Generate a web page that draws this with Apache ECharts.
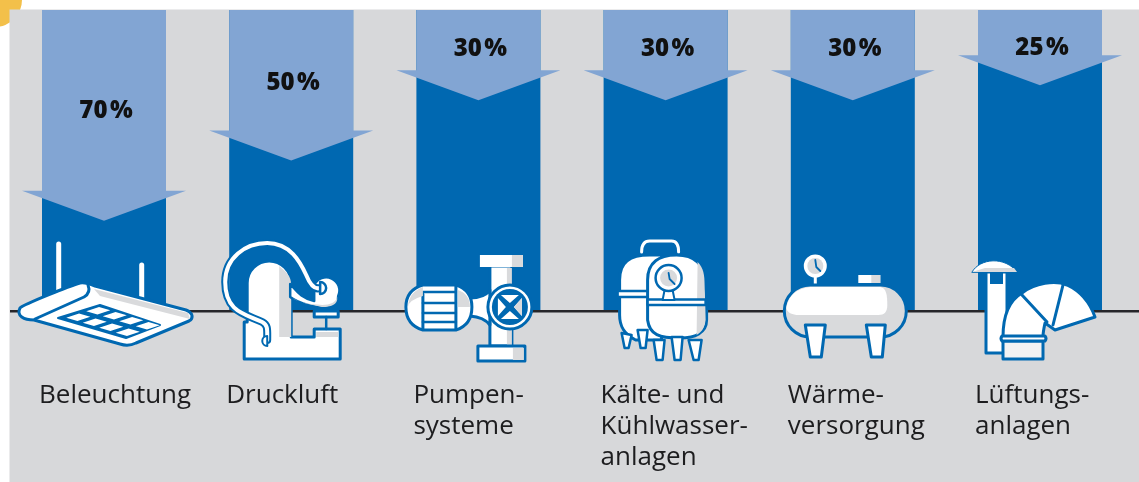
<!DOCTYPE html>
<html><head><meta charset="utf-8">
<style>html,body{margin:0;padding:0;background:#fff}#c{width:1139px;height:482px}</style>
<script src="https://cdn.jsdelivr.net/npm/echarts@6/dist/echarts.min.js"></script>
</head><body><div id="c"></div>
<script>
const categories = ['Beleuchtung','Druckluft','Pumpen-\nsysteme','Kälte- und\nKühlwasser-\nanlagen','Wärme-\nversorgung','Lüftungs-\nanlagen'];
const fullScale = [100,100,100,100,100,100];
const savings = [70,50,30,30,30,25];

const BLUE='#0068b1', LIGHT='#82a5d3', GRAY='#d7d8da', SHADE='#d9dadc', W='#ffffff';
const chart = echarts.init(document.getElementById('c'),null,{renderer:'canvas'});

function p(d,fill,stroke,lw){return {type:'path',shape:{pathData:d},style:{fill:fill||'none',stroke:stroke||'none',lineWidth:lw||0,lineJoin:'round',lineCap:'round'}};}
const ICO=(d)=>p(d,W,BLUE,3);
function grille(){ // lamp lens cells
  const A=[60,318],B=[100,305],D=[126,338];let out='';
  const L=(u,v)=>[A[0]+(B[0]-A[0])*v+(D[0]-A[0])*u, A[1]+(B[1]-A[1])*v+(D[1]-A[1])*u];
  for(let r=0;r<4;r++)for(let c=0;c<2;c++){
    const u0=r/4+.04,u1=(r+1)/4-.04,v0=c/2+.09,v1=(c+1)/2-.09;
    const a=L(u0,v0),b=L(u0,v1),e=L(u1,v1),f=L(u1,v0);
    out+=`M${a[0]},${a[1]}L${b[0]},${b[1]}L${e[0]},${e[1]}L${f[0]},${f[1]}Z`;
  }
  return out;
}
const TUBE='M267,340C267,330 268,325 262,322C245,314 225,312 225,282C225,258 245,243 267,243C290,243 300,262 306,275C310,285 314,290 320,288';
const icons=[
 { ox:104, parts:[
  p('M58.7,244L58.7,290',null,W,5), p('M141.7,265L141.7,298',null,W,5),
  ICO('M20,308C24,304 70,286 80,283C85,282 90,284 95,286L186,310C193,313 194,318 189,321L136,343C130,346 126,346 120,344L34,320C24,320 16,316 20,308Z'),
  p('M94,289L188,313L190,319L100,296Z',SHADE),
  p('M88,285C90,290 89,294 84,297L35,319',null,BLUE,3),
  p('M58,318L100,305L160,325L126,338Z',BLUE,BLUE,2),
  p(grille(),W)
 ]},
 { ox:291, parts:[
  ICO('M244,359L340,359L340,329L314,329L314,337L291,337L291,283A22,22 0 0 0 247,283L247,322L244,322Z'),
  p('M279,266C286,272 291,276 291,285L291,337L279,337Z',SHADE),
  p('M290,284C296,290 300,298 314,301L314,285A13,13 0 0 1 338,296C338,305 330,308 322,308L308,305C300,303 294,300 290,297Z',W,BLUE,2.5),
  p('M292,298C300,303 310,304 322,305C330,305 336,302 337,297C338,305 330,307 322,307L308,304C300,302 296,300 292,298Z',SHADE),
  p(TUBE,null,BLUE,8),
  p(TUBE,null,W,4),
  p('M267,336A5,5 0 1 0 267.1,346Z',W,BLUE,2),
  p('M320,282A6,6 0 1 1 319.9,294Z',W,BLUE,2.5),
  ICO('M314,311L338,311L338,317L314,317Z'), p('M326,317L326,329',null,BLUE,2.5),
  p('M316,332L338,332L338,337L316,337Z',SHADE)
 ]},
 { ox:478.5, parts:[
  ICO('M490,266L512,266L512,346L490,346Z'),
  p('M507,268L512,268L512,345L507,345Z',SHADE),
  ICO('M470,298Q484,298 490,290L490,325Q484,317 470,316Z'),
  p('M480,255L523,255L523,267L480,267Z',W),
  p('M512,255L523,255L523,267L512,267Z',SHADE),
  ICO('M478,346L525,346L525,361L478,361Z'),
  p('M513,348L524,348L524,360L513,360Z',SHADE),
  ICO('M423,285L456,285Q472,290 472,307Q472,325 456,330L423,330Q406,325 406,307Q406,290 423,285Z'),
  p('M423,294L423,329M456,286L456,329',null,BLUE,3),
  p('M423,292L456,292M423,303L456,303M423,313L456,313M423,322L456,322',null,BLUE,2.5),
  p('M423,287Q409,292 408,307Q409,300 423,296Z',SHADE),
  p('M458,290Q470,294 470,307L458,307Z',SHADE),
  {type:'circle',shape:{cx:510,cy:307,r:22},style:{fill:W,stroke:BLUE,lineWidth:3}},
  {type:'circle',shape:{cx:510,cy:307,r:18},style:{fill:BLUE}},
  p('M510,303L501,295L519,295ZM514,307L522,298L522,316ZM510,311L519,319L501,319ZM506,307L498,316L498,298Z',W),
  p('M522,298L522,316L514,307Z',SHADE)
 ]},
 { ox:666, parts:[
  p('M642,252Q642,241 650,241L672,241Q679,241 679,252',null,W,3),
  ICO('M620,280C620,262 630,255 650,255L662,255L662,340L636,340C624,334 620,326 620,315Z'),
  p('M622,333L632,335L629,348L625,348Z',W,BLUE,2.5), p('M638,330L648,330L646,348L641,348Z',W,BLUE,2.5),
  p('M618,291L650,291L650,297L618,297Z',W,BLUE,2.5),
  ICO('M648,280C648,262 660,255 677,255C695,255 705,265 705,280L707,300L707,320C707,333 695,338 680,338C660,338 650,335 648,320Z'),
  p('M698,262C704,268 705,275 705,285L706,320C705,328 702,332 697,335Z',SHADE),
  p('M654,340L665,340L663,360L657,360Z',W,BLUE,2.5), p('M672,337L683,337L681,360L675,360Z',W,BLUE,2.5), p('M689,340L702,340L699,360L694,360Z',W,BLUE,2.5),
  p('M648,299.5L706,299.5L706,305L648,305Z',W,BLUE,2.5),
  p('M665,290L673,290L675,300L663,300Z',W,BLUE,2),
  {type:'circle',shape:{cx:669,cy:278,r:13},style:{fill:W,stroke:BLUE,lineWidth:2.5}},
  {type:'circle',shape:{cx:669,cy:278,r:8.5},style:{fill:SHADE}},
  p('M669,273L670,279L675,284',null,BLUE,1.8)
 ]},
 { ox:852.5, parts:[
  p('M815,276L815,285',null,W,3),
  {type:'circle',shape:{cx:815,cy:266,r:10.5},style:{fill:W,stroke:W,lineWidth:2}},
  {type:'circle',shape:{cx:815,cy:266,r:8},style:{fill:SHADE}},
  p('M815,260L816,267L820,271',null,BLUE,1.8),
  p('M858,275L880,275L880,283L858,283Z',W),
  p('M871,275L880,275L880,283L871,283Z',SHADE),
  p('M810,285L880,285A26,26 0 0 1 880,337L810,337A26,26 0 0 1 810,285Z',SHADE,BLUE,3),
  p('M810,287L880,287C886,288 887,295 887,305C887,312 884,315 878,315L796,315C790,314 787,312 786,308C788,295 797,288 810,287Z',W),
  p('M805,325L825,325L821,357L810,357Z',W,BLUE,3),
  p('M866,325L885,325L882,357L871,357Z',W,BLUE,3)
 ]},
 { ox:1040, parts:[
  ICO('M986,272L1007,272L1007,353L986,353Z'),
  p('M990,272L1003,272L1003,284L990,284Z',BLUE),
  p('M972,272C980,258 1005,256 1017,272Z',W,BLUE,1),
  p('M985,268L1014,268L1017,272L972,272Z',SHADE),
  ICO('M1003,337C1003,315 1010,300 1022,293C1035,283 1055,280 1067,285C1080,291 1090,303 1095,317L1055,330L1045,323C1044,328 1043,332 1043,337Z'),
  p('M1022,295L1047,322M1063,285L1053,325',null,BLUE,3),
  p('M1003,341L1043,341L1043,359L1003,359Z','#f2f2f3',BLUE,3),
  ICO('M1002,336L1045,336Q1047,338.5 1045,341L1002,341Q1000,338.5 1002,336Z')
 ]}
];

const option={
  animation:false,
  backgroundColor:'#fff',
  grid:{left:10.4,width:1123.2,top:10,height:301,containLabel:false,outerBoundsMode:'none'},
  xAxis:{type:'category',data:categories,axisLine:{show:false},axisTick:{show:false},splitLine:{show:false},
    axisLabel:{interval:0,align:'left',verticalAlign:'top',margin:69,padding:[0,0,0,-65],color:'#1d1d1f',
      fontFamily:'"Open Sans"',fontWeight:500,fontSize:26,lineHeight:31,hideOverlap:false}},
  yAxis:{type:'value',inverse:true,min:0,max:100,show:false,splitLine:{show:false}},
  graphic:{elements:[
    {type:'circle',shape:{cx:-5,cy:0,r:27},style:{fill:'#f3c04a'},z:0},
    {type:'rect',shape:{x:9.5,y:9.5,width:1130,height:473},style:{fill:GRAY},z:0},
    {type:'rect',shape:{x:10,y:310,width:1129,height:2.6},style:{fill:'#26262a'},z:3}
  ]},
  series:[
    {type:'bar',name:'Gesamt',data:fullScale,barWidth:124,itemStyle:{color:BLUE},z:2,silent:true},
    {type:'custom',name:'Einsparung',data:savings.map((v,i)=>[i,v]),z:4,silent:true,
      encode:{x:0,y:1},
      renderItem(params,api){
        const i=api.value(0),v=api.value(1);
        const top=api.coord([i,0]),tip=api.coord([i,v]);
        const cx=top[0],hw=62,wing=82,head=30;
        const lift=v===30?6:0;
        const lbl=api.coord([i,v*0.47]);
        return {type:'group',children:[
          {type:'polygon',shape:{points:[[cx-hw,top[1]],[cx+hw,top[1]],[cx+hw,tip[1]-head],[cx+wing,tip[1]-head],[cx,tip[1]],[cx-wing,tip[1]-head],[cx-hw,tip[1]-head]]},style:{fill:LIGHT}},
          {type:'text',style:{x:cx+2,y:lbl[1]-lift+2.5,text:v+'\u200a%',fill:'#111',font:'900 24px "Noto Sans"',align:'center',verticalAlign:'middle'}}
        ]};
      }},
    {type:'custom',name:'Symbole',data:icons.map((_,i)=>[i,100]),z:5,silent:true,
      encode:{x:0,y:1},
      renderItem(params,api){
        const i=api.value(0);const o=api.coord([i,100]);
        return {type:'group',x:o[0]-icons[i].ox,y:o[1]-311,children:icons[i].parts};
      }}
  ]
};
chart.setOption(option);
</script></body></html>
